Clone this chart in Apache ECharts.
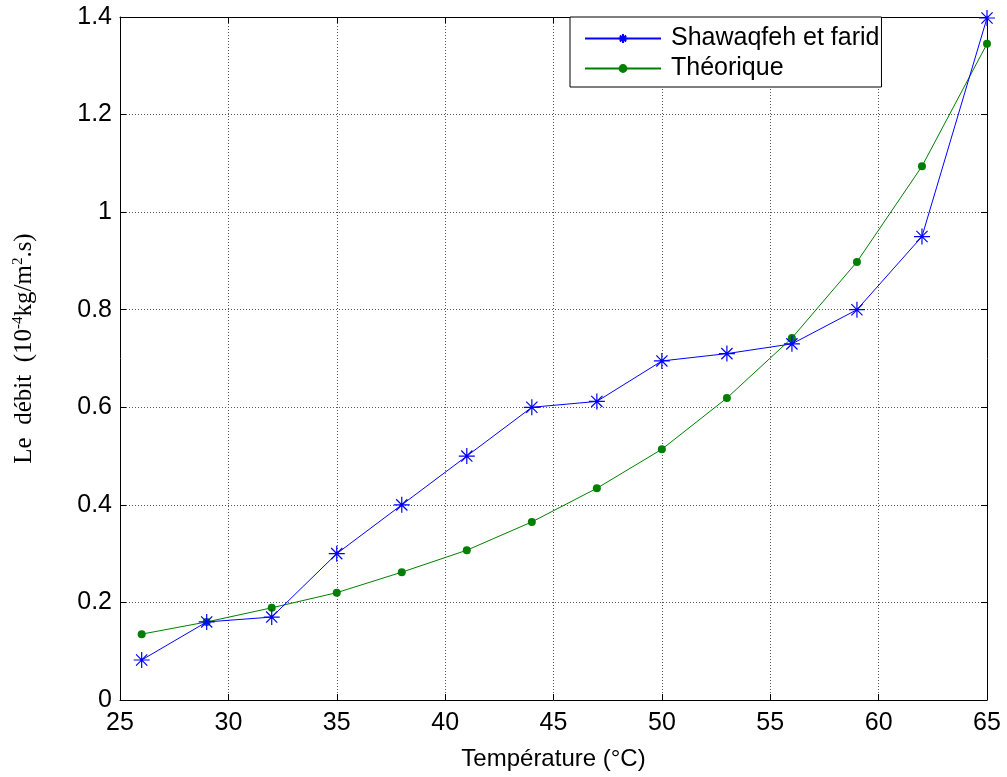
<!DOCTYPE html>
<html>
<head>
<meta charset="utf-8">
<script src="https://cdn.jsdelivr.net/npm/echarts@6/dist/echarts.min.js"></script>
<style>html,body{margin:0;padding:0;background:#fff;}#c{width:1007px;height:777px;}</style>
</head>
<body>
<div id="c"></div>
<script>
const temperatures = [26, 29, 32, 35, 38, 41, 44, 47, 50, 53, 56, 59, 62, 65];
const shawaqfeh = [0.082, 0.160, 0.170, 0.300, 0.400, 0.500, 0.600, 0.612, 0.695, 0.710, 0.730, 0.800, 0.950, 1.398];
const theorique = [0.135, 0.160, 0.189, 0.220, 0.262, 0.307, 0.365, 0.434, 0.514, 0.619, 0.742, 0.898, 1.094, 1.345];
const seriesNames = ['Shawaqfeh et farid', 'Théorique'];
const xTitle = 'Température (°C)';
const yTitle = 'Le  débit  (10{sup|-4}kg/m{sup|2}.s)';

const pairs = (xs, ys) => xs.map((x, i) => [x, ys[i]]);
const asterisk = 'path://M0,-10 L0,10 M-10,0 L10,0 M-7,-7 L7,7 M-7,7 L7,-7';

const chart = echarts.init(document.getElementById('c'));
const gridLine = {show: true, lineStyle: {color: '#555', type: [1, 2], width: 1}};
const axisFont = {fontFamily: 'Liberation Sans, Arial', fontSize: 25, color: '#000'};
chart.setOption({
  animation: false,
  backgroundColor: '#fff',
  grid: {left: 120, right: 20, top: 17, bottom: 77, containLabel: false},
  legend: {
    orient: 'vertical', left: 570, top: 17,
    backgroundColor: '#fff', borderColor: '#000', borderWidth: 1,
    padding: [9, 2, 6, 14], itemWidth: 76, itemHeight: 11, itemGap: 5,
    textStyle: {fontFamily: 'Liberation Sans, Arial', fontSize: 25, color: '#000', padding: [0, 0, 0, 5]},
    data: seriesNames
  },
  xAxis: [{
    type: 'value', min: 25, max: 65, interval: 5,
    name: xTitle, nameLocation: 'middle', nameGap: 47,
    nameTextStyle: {fontFamily: 'Liberation Sans, Arial', fontSize: 24, color: '#000'},
    axisLine: {show: true, onZero: false, lineStyle: {color: '#000', width: 1}},
    axisTick: {show: true, inside: true, length: 6, lineStyle: {color: '#000'}},
    axisLabel: Object.assign({margin: 11}, axisFont),
    splitLine: gridLine
  }, {
    type: 'value', position: 'top', min: 25, max: 65, interval: 5,
    axisLine: {show: true, onZero: false, lineStyle: {color: '#000', width: 1}},
    axisTick: {show: true, inside: true, length: 6, lineStyle: {color: '#000'}},
    axisLabel: {show: false}, splitLine: {show: false}
  }],
  yAxis: [{
    type: 'value', min: 0, max: 1.4, interval: 0.2,
    name: yTitle, nameLocation: 'middle', nameGap: 82,
    nameTextStyle: {
      fontFamily: 'Liberation Serif, Times New Roman', fontSize: 25, color: '#000',
      padding: [0, 0, 0, 20],
      rich: {sup: {fontFamily: 'Liberation Serif, Times New Roman', fontSize: 15, color: '#000', verticalAlign: 'top', padding: [0, 0, 12, 0]}}
    },
    axisLine: {show: true, onZero: false, lineStyle: {color: '#000', width: 1}},
    axisTick: {show: true, inside: true, length: 6, lineStyle: {color: '#000'}},
    axisLabel: Object.assign({margin: 8}, axisFont),
    splitLine: gridLine
  }, {
    type: 'value', position: 'right', min: 0, max: 1.4, interval: 0.2,
    axisLine: {show: true, onZero: false, lineStyle: {color: '#000', width: 1}},
    axisTick: {show: true, inside: true, length: 6, lineStyle: {color: '#000'}},
    axisLabel: {show: false}, splitLine: {show: false}
  }],
  series: [{
    name: seriesNames[0], type: 'line', data: pairs(temperatures, shawaqfeh),
    symbol: asterisk, symbolSize: 16,
    lineStyle: {color: '#0000ff', width: 1},
    itemStyle: {color: 'rgba(0,0,0,0)', borderColor: '#0000ff', borderWidth: 1.2},
    z: 3
  }, {
    name: seriesNames[1], type: 'line', data: pairs(temperatures, theorique),
    symbol: 'circle', symbolSize: 8,
    lineStyle: {color: '#008000', width: 1},
    itemStyle: {color: '#008000', borderWidth: 0},
    z: 2
  }]
});
</script>
</body>
</html>
